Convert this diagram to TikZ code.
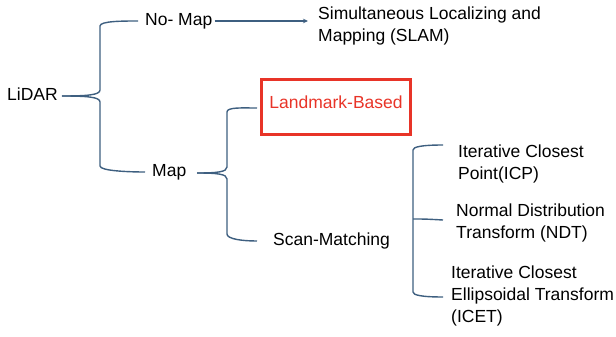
\documentclass[tikz,border=0pt]{standalone}
\usepackage{fontspec}
\setmainfont{Liberation Sans}
\usetikzlibrary{arrows.meta}
\definecolor{linkblue}{RGB}{62,95,128}
\definecolor{boxred}{RGB}{232,52,40}
\begin{document}
\begin{tikzpicture}[x=1pt,y=-1pt,
  base/.style={inner sep=0pt,anchor=west,align=left,
    font=\fontsize{17.5}{22}\selectfont},
  txt/.style={base,text height=13pt,text depth=4pt},
  multi/.style={base},
  redbox/.style={draw=boxred,line width=3pt,minimum width=149pt,minimum height=55pt,
    inner sep=0pt,text=boxred,font=\fontsize{17.5}{22}\selectfont,text height=13pt,text depth=9pt},
  brace/.style={draw=linkblue,line width=1.4pt},
  link/.style={draw=linkblue,line width=1.4pt,-{Stealth[length=5pt,width=4.5pt]}}]
\useasboundingbox (0,0) rectangle (616,337);

% labels
\node[txt] (lidar) at (7,96) {LiDAR};
\node[txt] (nomap) at (145,21) {No- Map};
\node[txt] (map) at (152,172) {Map};
\node[multi] (slam) at (318,25.5) {Simultaneous Localizing and\\Mapping (SLAM)};
\node[redbox] (land) at (336,107) {Landmark-Based};
\node[txt] (scan) at (273,241) {Scan-Matching};
\node[multi] (icp) at (458,164) {Iterative Closest\\Point(ICP)};
\node[multi] (ndt) at (456,222.5) {Normal Distribution\\Transform (NDT)};
\node[multi] (icet) at (451,295.5) {Iterative Closest\\Ellipsoidal Transform\\(ICET)};

% bracket tips and free ends
\coordinate (t1) at (62,96);
\coordinate (t2) at (197,173);
\coordinate (e3t) at (443,145);
\coordinate (e3m) at (443,220);
\coordinate (e3b) at (443,297);

% LiDAR -> No- Map / Map
\draw[brace] (t1) .. controls +(25,0) and +(0,5) .. (100,90) -- (100,26)
  .. controls +(0,-5) and +(-15,0) .. ([xshift=-7pt]nomap.west);
\draw[brace] (t1) .. controls +(25,0) and +(0,-5) .. (100,102) -- (100,166)
  .. controls +(0,5) and +(-15,0) .. ([xshift=-7pt]map.west);

% No- Map -> SLAM
\draw[link] ([xshift=2pt]nomap.east) -- ([xshift=-10pt]slam.west |- nomap.east);

% Map -> Landmark-Based / Scan-Matching
\draw[brace] (t2) .. controls +(20,0) and +(0,5) .. (227,167) -- (227,112)
  .. controls +(0,-5) and +(-15,0) .. ([xshift=-3pt,yshift=-1pt]land.west);
\draw[brace] (t2) .. controls +(20,0) and +(0,-5) .. (227,179) -- (227,234)
  .. controls +(0,5) and +(-15,0) .. ([xshift=-16pt]scan.west);

% Scan-Matching methods
\draw[brace] (e3t) .. controls +(-22,0) and +(0,-3) .. (413,150) -- (413,292)
  .. controls +(0,3) and +(-22,0) .. (e3b);
\draw[brace] (413,219) .. controls (425,219) .. (e3m);
\end{tikzpicture}
\end{document}
